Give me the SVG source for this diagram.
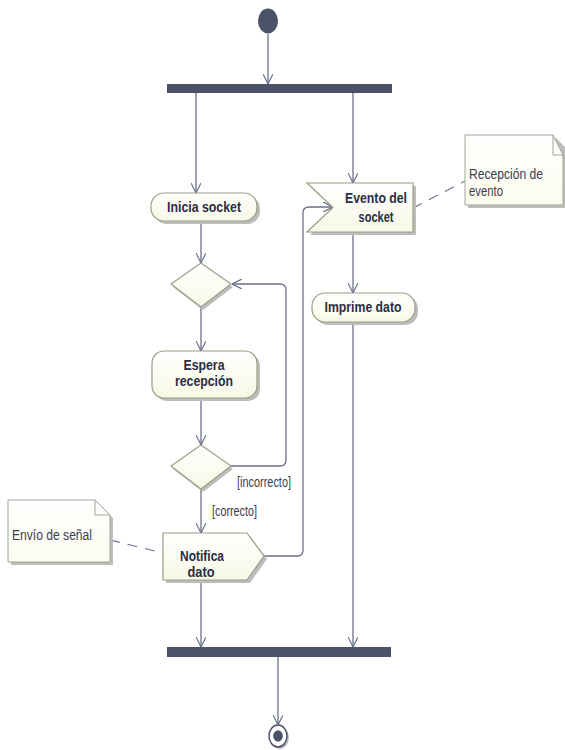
<svg xmlns="http://www.w3.org/2000/svg" width="565" height="750" viewBox="0 0 565 750">
<style>
.bg{fill:#ffffff}
.bar{fill:#4b5169}
.node{fill:url(#nf);stroke:#9c9e84;stroke-width:1.2}
.note{fill:url(#nt);stroke:#a4a498;stroke-width:1}
.shadow{fill:#bdbdbd}
.edge{fill:none;stroke:#69708a;stroke-width:1.3}
.dash{fill:none;stroke:#69708a;stroke-width:1.1;stroke-dasharray:10,8}
.lbl{font-family:"Liberation Sans",Arial,sans-serif;font-weight:bold;font-size:15px;fill:#2a2d44;text-anchor:middle}
.txt{font-family:"Liberation Sans",Arial,sans-serif;font-size:14px;fill:#3a3d50}
</style>
<defs>
<linearGradient id="nf" x1="0" y1="0" x2="0" y2="1">
<stop offset="0" stop-color="#ffffff"/>
<stop offset="1" stop-color="#f8f8e6"/>
</linearGradient>
<linearGradient id="nt" x1="0" y1="0" x2="0" y2="1">
<stop offset="0" stop-color="#ffffff"/>
<stop offset="1" stop-color="#fbfbef"/>
</linearGradient>
<marker id="arr" viewBox="0 0 10 10" refX="10" refY="5" markerWidth="10" markerHeight="10" markerUnits="userSpaceOnUse" orient="auto">
<path d="M0,0 L10,5 L0,10" fill="none" stroke="#69708a" stroke-width="1.2"/>
</marker>
</defs>
<rect class="bg" x="0" y="0" width="565" height="750"/>

<g id="connectors">
<path class="edge" d="M268,34 V84" marker-end="url(#arr)"/>
<path class="edge" d="M196,93 V193" marker-end="url(#arr)"/>
<path class="edge" d="M353,93 V183" marker-end="url(#arr)"/>
<path class="edge" d="M201,221 V263" marker-end="url(#arr)"/>
<path class="edge" d="M201,307 V351" marker-end="url(#arr)"/>
<path class="edge" d="M201,398 V445" marker-end="url(#arr)"/>
<path class="edge" d="M201,489 V533" marker-end="url(#arr)"/>
<path class="edge" d="M231,466 H280 Q286,466 286,460 V290 Q286,284 280,284 H232" marker-end="url(#arr)"/>
<path class="edge" d="M264,556 H297 Q303,556 303,550 V213 Q303,207 309,207 H333" marker-end="url(#arr)"/>
<path class="edge" d="M353,232 V293" marker-end="url(#arr)"/>
<path class="edge" d="M353,322 V647" marker-end="url(#arr)"/>
<path class="edge" d="M201,580 V647" marker-end="url(#arr)"/>
<path class="edge" d="M278,657 V725" marker-end="url(#arr)"/>
<path class="dash" d="M413,208 L465,181"/>
<path class="dash" d="M110,540 L163,553"/>
</g>

<g id="initial">
<ellipse cx="268" cy="21" rx="10" ry="12.5" class="bar"/>
</g>

<g id="fork">
<rect x="167" y="84" width="225" height="9" class="bar"/>
</g>

<g id="inicia-socket">
<rect x="154" y="196" width="106" height="28" rx="13" class="shadow"/>
<rect x="151" y="193" width="106" height="28" rx="13" class="node"/>
<text x="204" y="212" class="lbl" textLength="74" lengthAdjust="spacingAndGlyphs">Inicia socket</text>
</g>

<g id="evento-socket">
<path d="M310,186 H416 V235 H310 L336,210.5 Z" class="shadow"/>
<path d="M307,183 H413 V232 H307 L333,207.5 Z" class="node"/>
<text x="376" y="203" class="lbl" textLength="62" lengthAdjust="spacingAndGlyphs">Evento del</text>
<text x="376" y="222" class="lbl" textLength="35" lengthAdjust="spacingAndGlyphs">socket</text>
</g>

<g id="nota-recepcion">
<path d="M468,138 H556 L566,148 V208 H468 Z" class="shadow"/>
<path d="M465,135 H553 L563,155 V205 H465 Z" class="note"/>
<path d="M553,135 V155 H563" fill="none" stroke="#a4a498" stroke-width="1"/>
<text x="469" y="179" class="txt" textLength="74" lengthAdjust="spacingAndGlyphs">Recepción de</text>
<text x="469" y="196" class="txt" textLength="34" lengthAdjust="spacingAndGlyphs">evento</text>
</g>

<g id="imprime-dato">
<rect x="315" y="296" width="103" height="29" rx="13" class="shadow"/>
<rect x="312" y="293" width="103" height="29" rx="13" class="node"/>
<text x="363" y="312" class="lbl" textLength="77" lengthAdjust="spacingAndGlyphs">Imprime dato</text>
</g>

<g id="decision-1">
<path d="M203,266 L233,287 L203,310 L173,287 Z" class="shadow"/>
<path d="M201,263 L231,284 L201,307 L171,284 Z" class="node"/>
</g>

<g id="espera-recepcion">
<rect x="155" y="354" width="105" height="47" rx="12" class="shadow"/>
<rect x="152" y="351" width="105" height="47" rx="12" class="node"/>
<text x="204" y="370" class="lbl" textLength="41" lengthAdjust="spacingAndGlyphs">Espera</text>
<text x="204" y="386" class="lbl" textLength="58" lengthAdjust="spacingAndGlyphs">recepción</text>
</g>

<g id="decision-2">
<path d="M203,448 L233,469 L203,492 L173,469 Z" class="shadow"/>
<path d="M201,445 L231,466 L201,489 L171,466 Z" class="node"/>
<text x="237" y="487" class="txt" textLength="54" lengthAdjust="spacingAndGlyphs">[incorrecto]</text>
<text x="212" y="516" class="txt" textLength="45" lengthAdjust="spacingAndGlyphs">[correcto]</text>
</g>

<g id="nota-envio">
<path d="M11,503 H98 L113,518 V565 H11 Z" class="shadow"/>
<path d="M8,500 H95 L110,515 V562 H8 Z" class="note"/>
<path d="M95,500 V515 H110" fill="none" stroke="#a4a498" stroke-width="1"/>
<text x="12" y="540" class="txt" textLength="80" lengthAdjust="spacingAndGlyphs">Envío de señal</text>
</g>

<g id="notifica-dato">
<path d="M166,536 H250 L267,559 L250,583 H166 Z" class="shadow"/>
<path d="M163,533 H247 L264,556 L247,580 H163 Z" class="node"/>
<text x="202" y="561" class="lbl" textLength="44" lengthAdjust="spacingAndGlyphs">Notifica</text>
<text x="201" y="577" class="lbl" textLength="27" lengthAdjust="spacingAndGlyphs">dato</text>
</g>

<g id="join">
<rect x="167" y="647" width="224" height="10" class="bar"/>
</g>

<g id="final">
<ellipse cx="280" cy="738" rx="9" ry="11" class="shadow"/>
<ellipse cx="278" cy="736" rx="9" ry="11" fill="#ffffff" stroke="#4b5169" stroke-width="1.5"/>
<ellipse cx="278" cy="736" rx="4.8" ry="5.8" class="bar"/>
</g>
</svg>
